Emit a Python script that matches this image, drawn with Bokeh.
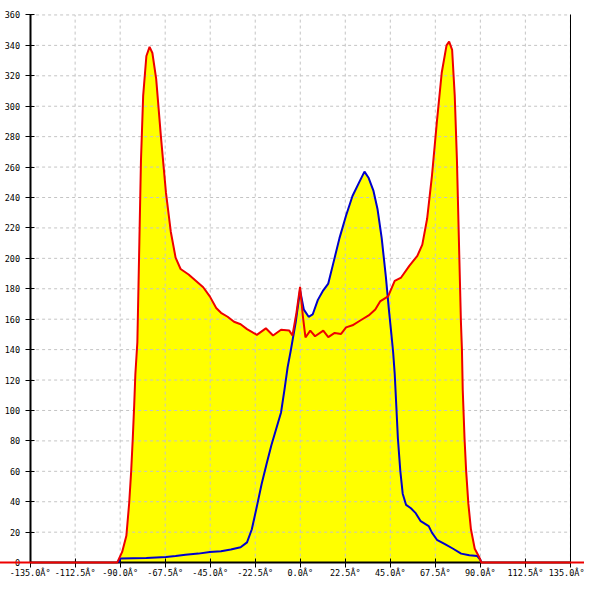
from bokeh.plotting import figure
from bokeh.models import LinearAxis, FixedTicker, PrintfTickFormatter, Range1d
from bokeh.embed import file_html
from bokeh.resources import INLINE

# ---- data ----
x_ticks = [-135.0, -112.5, -90.0, -67.5, -45.0, -22.5, 0.0, 22.5, 45.0, 67.5, 90.0, 112.5, 135.0]
y_ticks = [0, 20, 40, 60, 80, 100, 120, 140, 160, 180, 200, 220, 240, 260, 280, 300, 320, 340, 360]

red_x = [-180, -91.5, -89.0, -86.9, -85.5, -84.5, -83.7, -83.0, -82.4, -81.4, -80.4, -79.6, -78.5,
         -76.9, -75.3, -73.9, -72.0, -69.6, -67.1, -64.7, -62.3, -59.8, -55.8, -52.5, -48.5, -45.2,
         -42.0, -39.6, -36.3, -33.1, -29.8, -26.6, -21.7, -17.2, -13.6, -9.6, -5.5, -3.9, -1.9, -0.1,
         1.3, 2.6, 5.0, 7.4, 11.5, 14.0, 17.2, 20.4, 22.9, 26.1, 30.2, 34.2, 37.5, 39.9, 43.9, 47.2,
         50.4, 54.5, 58.5, 61.0, 63.4, 65.8, 68.3, 70.7, 73.1, 74.4, 75.9, 77.2, 78.3, 79.3, 80.3,
         80.8, 81.2, 82.1, 82.9, 84.0, 85.3, 87.2, 89.4, 90.5, 180]
red_y = [0, 0, 7, 17.6, 39, 60, 81.6, 103, 124, 145, 211, 264.5, 307,
         333, 339, 335, 318, 279.5, 243, 217.5, 200.5, 193, 189.4, 185.6, 181, 175,
         167.4, 164.2, 161.6, 158.3, 156.7, 153.5, 149.7, 154, 149.3, 153.1, 152.5, 149.3, 164.2, 181.3,
         162, 148, 152.5, 148.8, 152.5, 148.2, 151, 150.3, 154.6, 156, 159.3, 162.5, 166.3, 171.7, 175, 185.2,
         187.4, 195.1, 201.6, 209, 226, 254, 290, 322, 340, 342.5, 337, 307, 264.5, 211, 158,
         140, 113.6, 81.6, 60.3, 38.9, 21.9, 9.1, 3.7, 0, 0]

blue_x = [-90.6, -90.0, -76.9, -67.1, -62.3, -57.4, -50.9, -45.2, -39.6, -34.7, -29.8, -26.6, -24.2,
          -21.7, -19.3, -16.9, -14.4, -12.0, -9.6, -7.9, -6.3, -4.7, -2.3, -0.1, 1.8, 4.2, 6.2, 8.8,
          11.5, 14.0, 16.4, 19.6, 22.9, 26.1, 29.3, 32.1, 34.2, 36.6, 38.6, 40.7, 42.8, 44.3, 45.6,
          46.4, 47.2, 48.0, 48.8, 50.0, 51.2, 52.9, 55.3, 57.7, 60.2, 64.2, 65.8, 68.3, 72.3, 76.4,
          80.4, 84.5, 88.5, 90.1, 90.5]
blue_y = [0, 2.7, 3, 3.7, 4.3, 5.2, 5.9, 6.9, 7.5, 8.6, 10.1, 13.3, 21.9,
          36.8, 51.7, 64.5, 77.3, 88, 98.7, 113.6, 128.5, 139.7, 157.8, 179, 166.3, 161.6, 163.1, 172.7,
          179, 183.4, 196.2, 213.3, 228.2, 241, 249.6, 257, 252.8, 244.3, 232.5, 213.3, 187.7, 166.3, 149.3,
          138.6, 124.2, 102.9, 81.6, 60.3, 45.3, 37.9, 35.7, 32.5, 27.2, 24, 19.7, 15, 12.2, 9.1,
          5.9, 4.8, 4.3, 1.6, 0]

X_MIN, X_MAX = x_ticks[0], x_ticks[-1]
Y_MIN, Y_MAX = y_ticks[0], y_ticks[-1]

FONT = "DejaVu Sans Mono"
FSIZE = "8.5px"

p = figure(width=584, height=584,
           x_range=Range1d(-149.8, 142.05), y_range=Range1d(-14.4, 369.5),
           x_axis_type=None, y_axis_type=None,
           toolbar_location=None, output_backend="svg",
           min_border=0)
p.outline_line_color = None
p.background_fill_color = "white"
p.border_fill_color = "white"

# fills
p.varea(x=blue_x, y1=0, y2=blue_y, fill_color="#ffff00")
p.varea(x=red_x, y1=0, y2=red_y, fill_color="#ffff00")

# grid (from tick lists)
gx = x_ticks[1:]
p.segment(x0=gx, y0=[Y_MIN] * len(gx), x1=gx, y1=[Y_MAX] * len(gx),
          line_color="#c4c4c4", line_dash="3 3", line_width=1)
gy = y_ticks[1:]
p.segment(x0=[X_MIN] * len(gy), y0=gy, x1=[X_MAX] * len(gy), y1=gy,
          line_color="#c4c4c4", line_dash="3 3", line_width=1)

# series lines
bl = p.line(blue_x, blue_y, line_color="#0000cc", line_width=2)
rl = p.line(red_x, red_y, line_color="#ee0000", line_width=2)
bl.level = "overlay"
rl.level = "overlay"

# axes
yax = LinearAxis(fixed_location=X_MIN, bounds=(Y_MIN, Y_MAX), ticker=FixedTicker(ticks=y_ticks))
yax.major_tick_in = 4
yax.major_tick_out = 5
yax.minor_tick_line_color = None
yax.axis_line_width = 2
yax.major_label_text_font = FONT
yax.major_label_text_font_size = FSIZE
yax.major_label_text_color = "black"
yax.major_label_standoff = 5
p.add_layout(yax, "left")

xax = LinearAxis(fixed_location=0, bounds=(X_MIN, X_MAX), ticker=FixedTicker(ticks=x_ticks),
                 formatter=PrintfTickFormatter(format="%.1f\u00c2\u00b0"))
xax.major_tick_in = 4
xax.major_tick_out = 5
xax.minor_tick_line_color = None
xax.axis_line_width = 2
xax.major_label_text_font = FONT
xax.major_label_text_font_size = FSIZE
xax.major_label_text_color = "black"
xax.major_label_standoff = 0
p.add_layout(xax, "below")

rax = LinearAxis(fixed_location=X_MAX, bounds=(Y_MIN, Y_MAX), ticker=FixedTicker(ticks=[]))
rax.major_tick_line_color = None
rax.minor_tick_line_color = None
rax.major_label_text_alpha = 0
rax.axis_line_width = 1
p.add_layout(rax, "right")

open("out.html", "w").write(file_html(p, INLINE))
